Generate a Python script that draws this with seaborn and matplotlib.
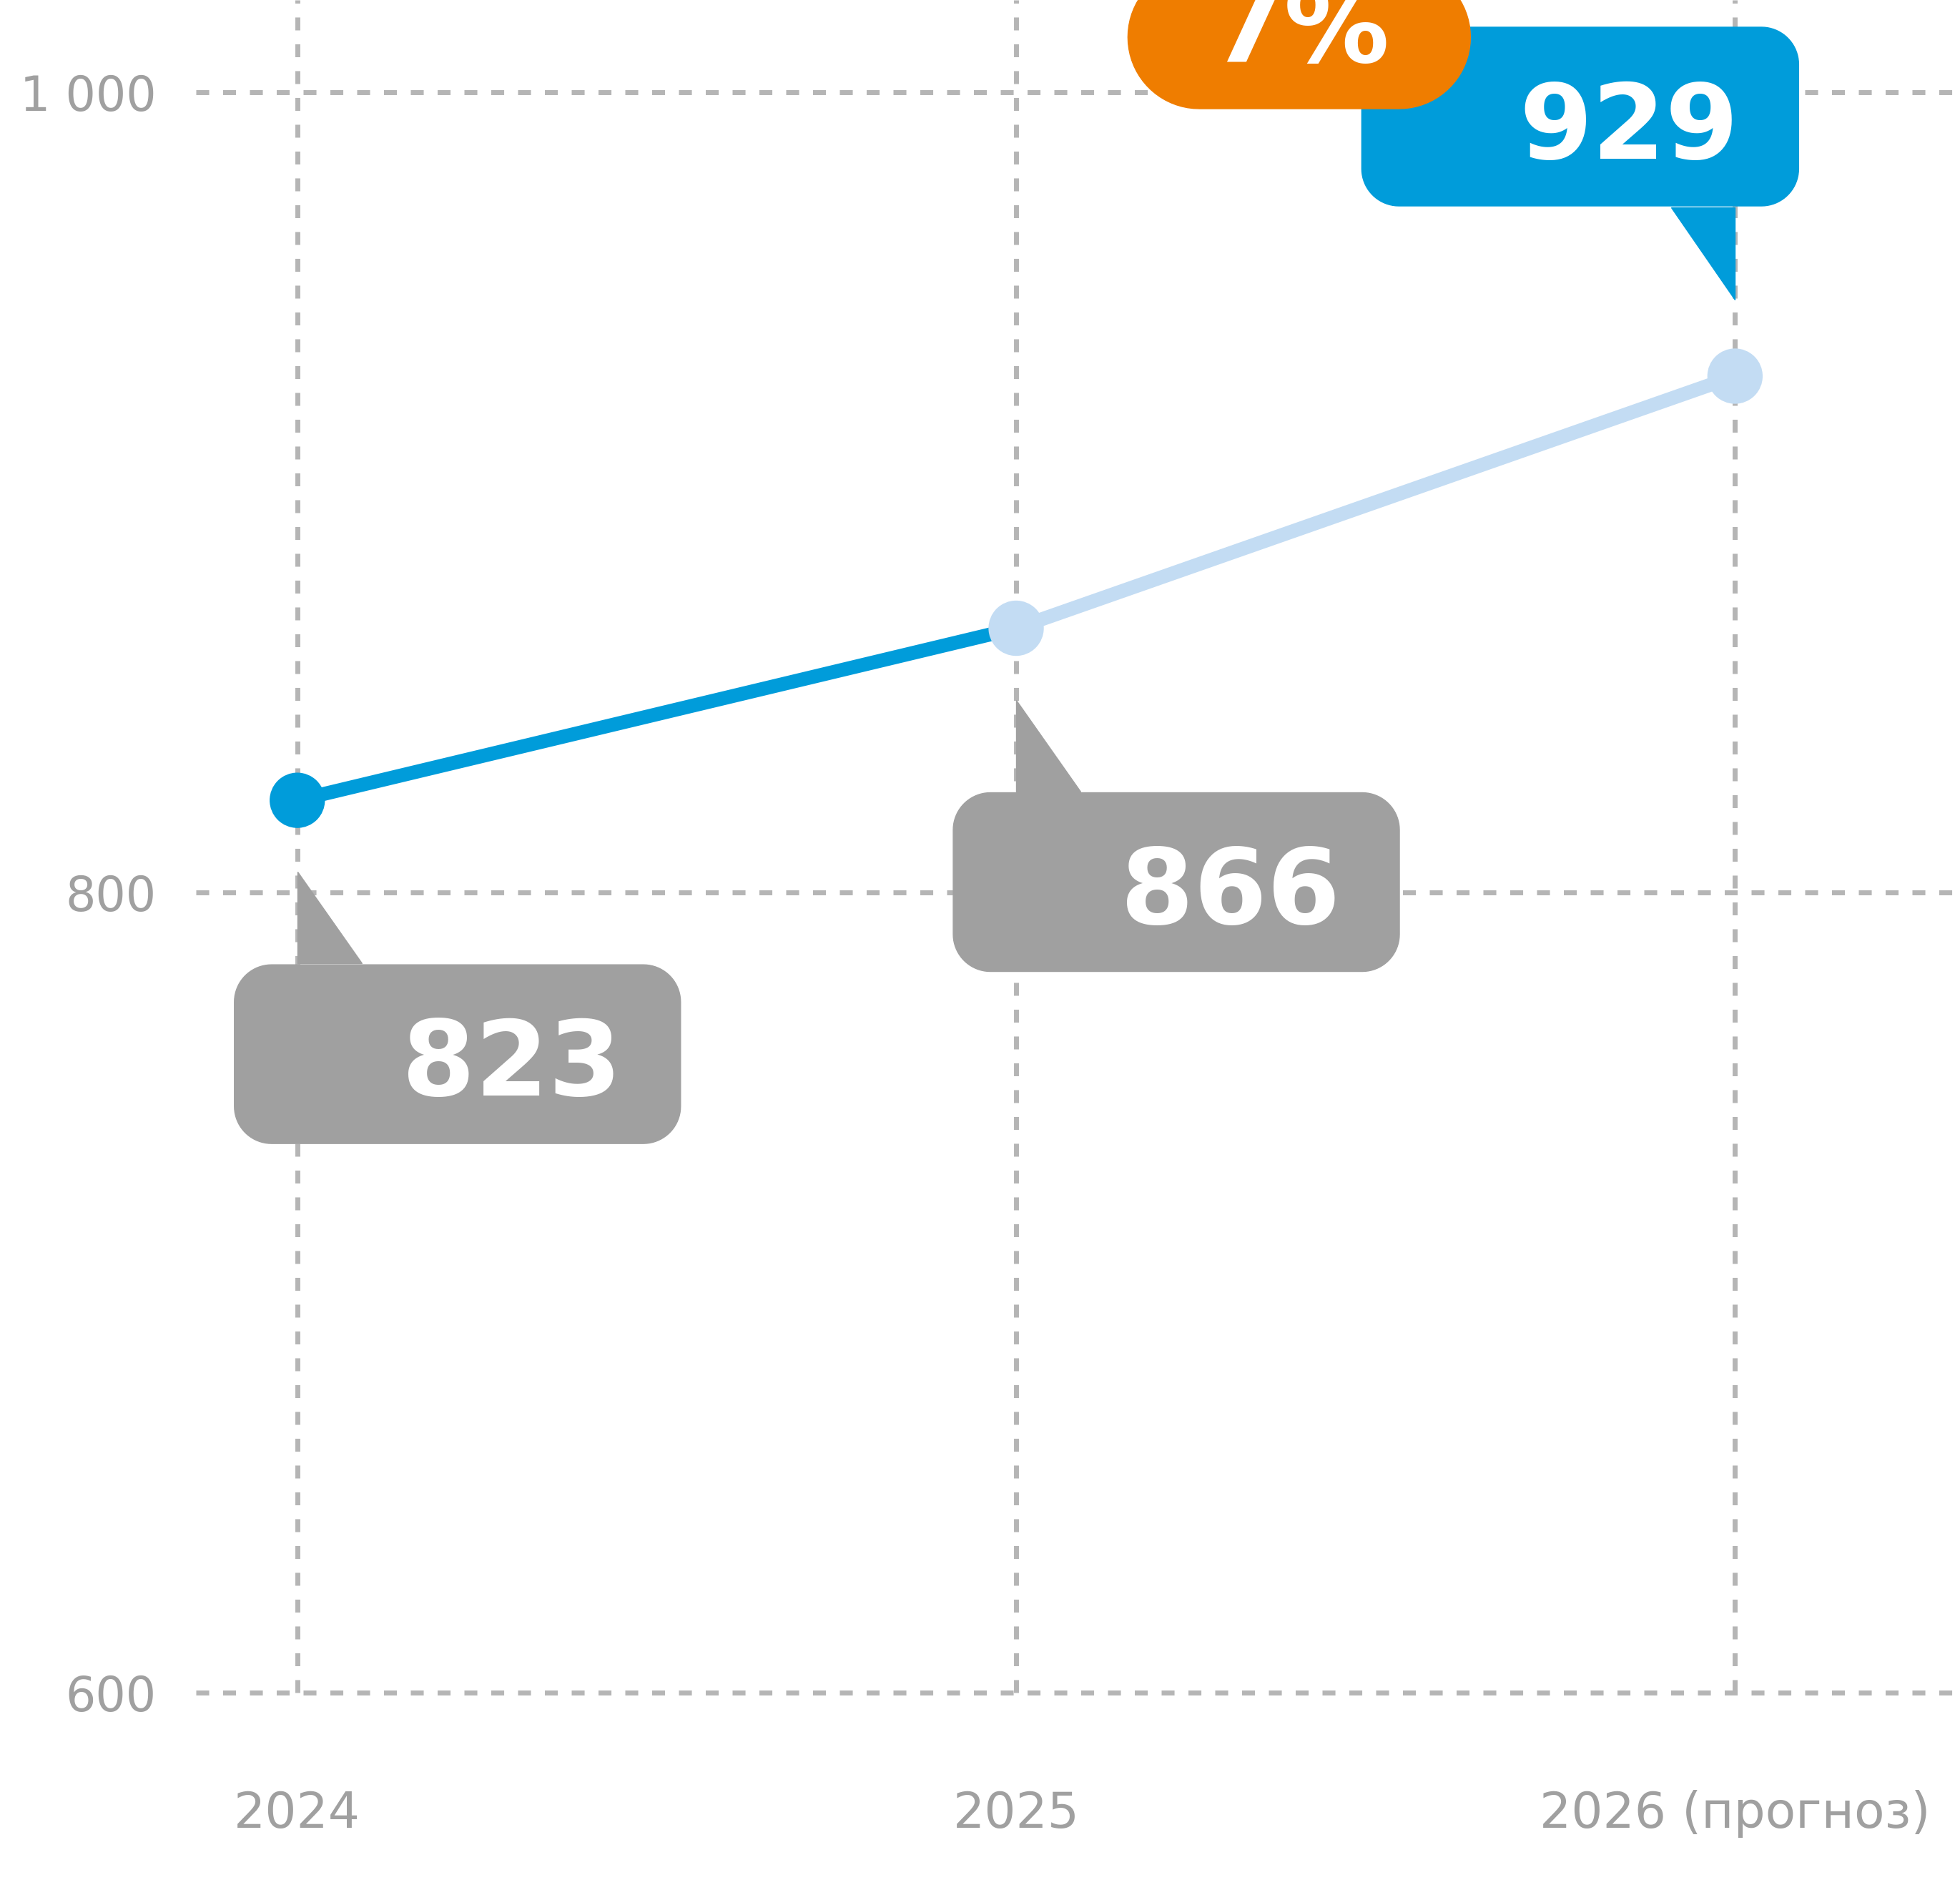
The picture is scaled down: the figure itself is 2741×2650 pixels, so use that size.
import matplotlib
matplotlib.use("Agg")
import matplotlib.pyplot as plt
from matplotlib.patches import Polygon
from matplotlib.transforms import IdentityTransform
import seaborn as sns
import pandas as pd
import numpy as np

years = ["2024", "2025", "2026 (прогноз)"]
values = [823, 866, 929]
y_ticks = [600, 800, 1000]
y_tick_labels = ["600", "800", "1 000"]

DARK = "#009CDA"
LIGHT = "#C3DCF3"
GREY_BOX = "#A0A0A0"
ORANGE = "#EF7D00"
GRID = "#B5B5B5"
TICK = "#A0A0A0"

W, H = 2741, 2650


def rounded_rect(x0, y0, x1, y1, r):
    # polygon outline of a rectangle with circular corners (pixel coords)
    pts = []
    corners = [(x1 - r, y1 - r, 0), (x0 + r, y1 - r, 90), (x0 + r, y0 + r, 180), (x1 - r, y0 + r, 270)]
    for cx, cy, a in corners:
        th = np.radians(np.linspace(a, a + 90, 20))
        pts += list(zip(cx + r * np.cos(th), cy + r * np.sin(th)))
    return pts


def callout(ax, i, color, below=True, dx_text=300):
    # speech bubble placed relative to the data point (in pixels)
    px, py = ax.transData.transform((i, values[i]))
    t = IdentityTransform()
    if below:
        x0, x1, top, bot = px - 88, px + 536, py - 230, py - 480
        tri = [(px, py - 100), (px, top + 2), (px + 90, top + 2)]
        base = py - 413
    else:
        x0, x1, top, bot = px - 522, px + 89, py + 488, py + 238
        tri = [(px, py + 107), (px, bot - 2), (px - 89, bot - 2)]
        base = py + 304
    ax.add_patch(Polygon(tri, closed=True, color=color, transform=t, clip_on=False, zorder=5))
    ax.add_patch(Polygon(rounded_rect(x0, bot, x1, top, 52), closed=True, color=color,
                         transform=t, clip_on=False, zorder=5))
    ax.text(px + dx_text, base, str(values[i]), color="white", fontsize=106,
            fontweight="bold", ha="center", va="baseline", transform=t, zorder=6)
    return px, py


def plot():
    sns.set_style("white")
    fig = plt.figure(figsize=(W / 100, H / 100), dpi=100)
    ax = fig.add_axes([274 / W, (H - 2367) / H, 1 - 274 / W, 2367 / H])

    df = pd.DataFrame({"x": range(len(years)), "value": values})
    sns.lineplot(data=df.iloc[:2], x="x", y="value", color=DARK, linewidth=14, ax=ax, zorder=3)
    sns.lineplot(data=df.iloc[1:], x="x", y="value", color=LIGHT, linewidth=14, ax=ax, zorder=3)
    for ln in ax.get_lines():
        ln.set_linewidth(14)
    sns.scatterplot(data=df, x="x", y="value", hue="x", palette=[DARK, LIGHT, LIGHT],
                    s=3100, linewidth=0, legend=False, ax=ax, zorder=4)

    ax.set_xlim(-0.141, 2.313)
    ax.set_ylim(600, 1023)
    ax.set_xticks(range(len(years)))
    ax.set_xticklabels(years)
    ax.set_yticks(y_ticks)
    ax.set_yticklabels(y_tick_labels)
    ax.set_xlabel("")
    ax.set_ylabel("")
    ax.tick_params(axis="x", length=0, pad=98, labelsize=50, labelcolor=TICK)
    ax.tick_params(axis="y", length=0, pad=40, labelsize=48, labelcolor=TICK)
    for s in ax.spines.values():
        s.set_visible(False)
    ax.grid(True, color=GRID, lw=5, linestyle=(0, (2.6, 2.8)), zorder=0)
    ax.set_axisbelow(True)
    for g in ax.get_xgridlines() + ax.get_ygridlines():
        g.set_clip_on(False)

    callout(ax, 0, GREY_BOX, below=True)
    callout(ax, 1, GREY_BOX, below=True)
    px, py = callout(ax, 2, DARK, below=False, dx_text=-148)

    # growth pill
    t = IdentityTransform()
    growth = round((values[2] / values[1] - 1) * 100)
    ax.add_patch(Polygon(rounded_rect(px - 849, py + 374, px - 370, py + 574, 99.9), closed=True,
                         color=ORANGE, transform=t, clip_on=False, zorder=7))
    ax.text(px - 608, py + 439, f"{growth}%", color="white", fontsize=106,
            fontweight="bold", ha="center", va="baseline", transform=t, zorder=8)

    fig.savefig("out.png", dpi=100)


if __name__ == '__main__':
    plot()
